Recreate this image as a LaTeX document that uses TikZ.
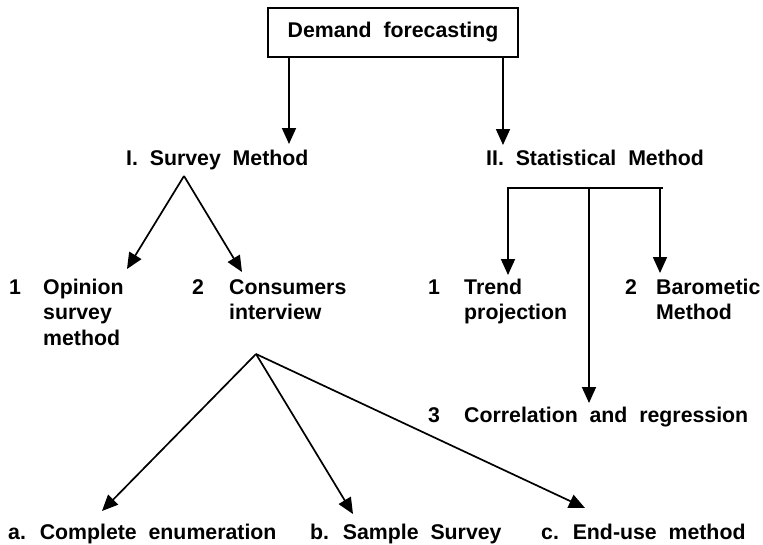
\documentclass[tikz,border=0pt]{standalone}
\usepackage{fontspec}
\setmainfont{Liberation Sans}[WordSpace=2.0]
\usetikzlibrary{arrows.meta}
\begin{document}
\begin{tikzpicture}[x=1pt,y=-1pt,
  txt/.style={inner sep=0pt, font=\bfseries\fontsize{21.3}{25.5}\selectfont},
  lbl/.style={txt, anchor=base west},
  mlbl/.style={txt, anchor=base west, align=left},
  arr/.style={-{Triangle[length=16pt,width=14pt]}, line width=1.7pt},
  bar/.style={line width=2.6pt}]
\useasboundingbox (0,0) rectangle (763,544);

% root box
\node[txt, draw, line width=2pt, minimum width=250pt, minimum height=49pt] (demand) at (393,32.5) {Demand forecasting};

% level 1
\node[lbl] (survey) at (126,165) {I. Survey Method};
\node[lbl] (stat) at (486,165) {II. Statistical Method};

% survey children (base anchor = last line)
\node[lbl] (n1) at (9,294) {1};
\node[mlbl] (opinion) at (43,345) {Opinion\\survey\\method};
\node[lbl] (n2) at (192,294) {2};
\node[mlbl] (consumers) at (229,319.5) {Consumers\\interview};

% statistical children
\node[lbl] (n1r) at (428,294) {1};
\node[mlbl] (trend) at (464,319.5) {Trend\\projection};
\node[lbl] (n2r) at (625,294) {2};
\node[mlbl] (barometic) at (656,319.5) {Barometic\\Method};
\node[lbl] (n3) at (428,422) {3};
\node[lbl] (corr) at (464,422) {Correlation and regression};

% consumers interview children
\node[lbl] (enum) at (8,539) {a. Complete enumeration};
\node[lbl] (sample) at (310,539) {b. Sample Survey};
\node[lbl] (enduse) at (541,539) {c. End-use method};

% connector points
\coordinate (dL) at (289,57);
\coordinate (dR) at (503,57);
\coordinate (tSurvey) at (289,144);
\coordinate (tStat) at (503,145);
\coordinate (sApex) at (184,176);
\coordinate (tOpinion) at (127,269);
\coordinate (tConsumers) at (242,272);
\coordinate (cApex) at (256,354);
\coordinate (tEnum) at (102,511);
\coordinate (tSample) at (353,514);
\coordinate (tEnduse) at (585,508);
\coordinate (barL) at (508,188);
\coordinate (barM) at (589,188);
\coordinate (barR) at (660,188);
\coordinate (tTrend) at (508,275);
\coordinate (tBaro) at (660,273);
\coordinate (tCorr) at (589,403);

% connectors
\draw[arr] (dL) -- (tSurvey);
\draw[arr] (dR) -- (tStat);
\draw[arr] (sApex) -- (tOpinion);
\draw[arr] (sApex) -- (tConsumers);
\draw[arr] (cApex) -- (tEnum);
\draw[arr] (cApex) -- (tSample);
\draw[arr] (cApex) -- (tEnduse);
\draw[bar] ([xshift=-1.3pt]barL) -- ([xshift=3pt]barR);
\draw[arr] (barL) -- (tTrend);
\draw[arr] (barM) -- (tCorr);
\draw[arr] (barR) -- (tBaro);
\end{tikzpicture}
\end{document}
